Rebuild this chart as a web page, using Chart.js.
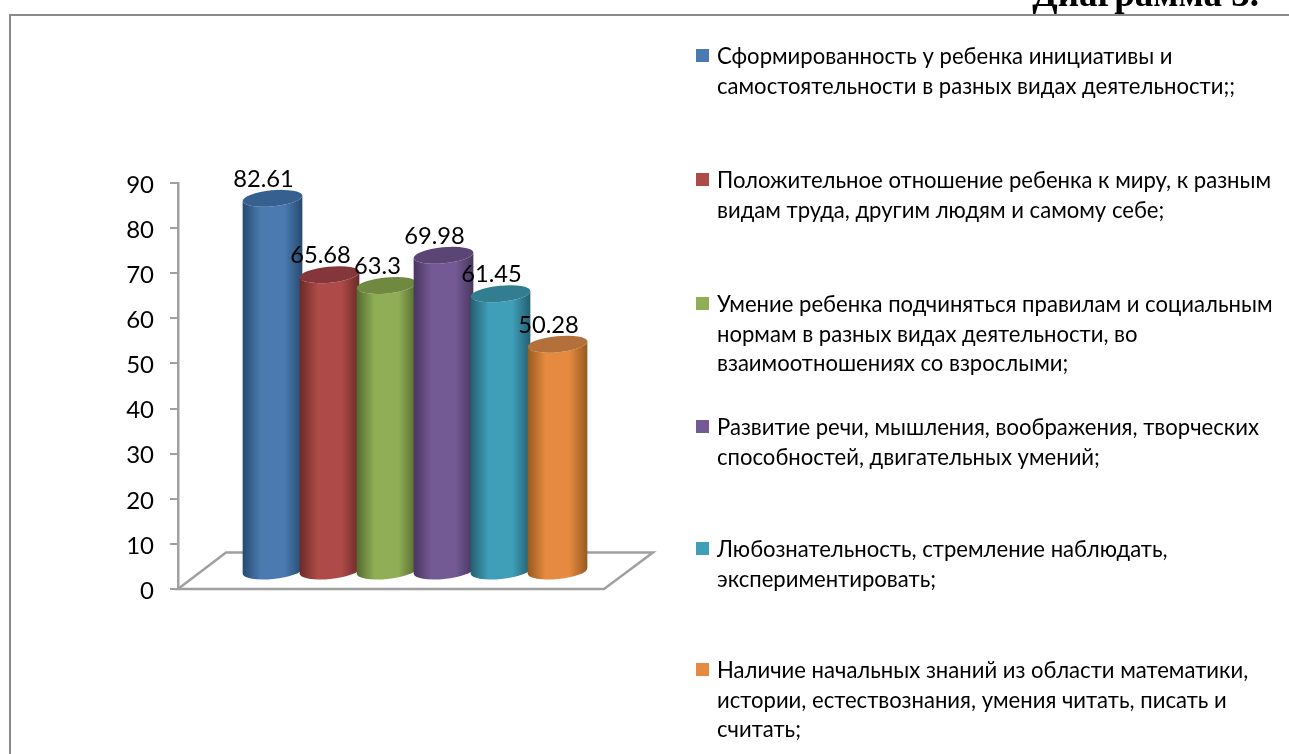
<!DOCTYPE html>
<html lang="ru">
<head>
<meta charset="utf-8">
<script src="https://cdn.jsdelivr.net/npm/chart.js@4"></script>
<style>
html,body{margin:0;padding:0;background:#fff;width:1289px;height:754px;overflow:hidden}
#wrap{position:relative;width:1289px;height:754px;overflow:hidden}
canvas{position:absolute;left:0;top:0}
#frameTop{position:absolute;left:9px;top:14px;width:1280px;height:2px;background:#8a8a8a}
#frameLeft{position:absolute;left:9px;top:14px;width:2px;height:740px;background:#8a8a8a}
#title{position:absolute;right:30px;top:-24.5px;font:bold 37px "Liberation Serif",serif;color:#000;white-space:nowrap;line-height:36px}
.swatch{position:absolute;left:696px;width:13px;height:13px}
.line{position:absolute;left:717px;font:22.1px Lato,sans-serif;color:#000;white-space:nowrap;line-height:28px;height:28px}
</style>
</head>
<body>
<div id="wrap">
<canvas id="c" width="1289" height="754"></canvas>
<div id="title">Диаграмма 3.</div>
<div id="frameTop"></div><div id="frameLeft"></div>
</div>
<script>
const categories = [''];
const seriesValues = [82.61, 65.68, 63.3, 69.98, 61.45, 50.28];
const seriesNames = [
  ['Сформированность у ребенка инициативы и', 'самостоятельности в разных видах деятельности;;'],
  ['Положительное отношение ребенка к миру, к разным', 'видам труда, другим людям и самому себе;'],
  ['Умение ребенка подчиняться правилам и социальным', 'нормам в разных видах деятельности, во', 'взаимоотношениях со взрослыми;'],
  ['Развитие речи, мышления, воображения, творческих', 'способностей, двигательных умений;'],
  ['Любознательность, стремление наблюдать,', 'экспериментировать;'],
  ['Наличие начальных знаний из области математики,', 'истории, естествознания, умения читать, писать и', 'считать;']
];
const seriesColors = ['#4a7ab0', '#ae4a47', '#8fae55', '#735a94', '#3f9eb8', '#e58a3f'];
const capColors = ['#35608f', '#84363a', '#6f8a40', '#5a4575', '#327e90', '#b3703a'];
const edgeColors = ['#264a70', '#6a2a28', '#54692f', '#493660', '#235f70', '#96591f'];
const yTicks = [0, 10, 20, 30, 40, 50, 60, 70, 80, 90];
const legendRowY = [55, 179, 303, 426, 548, 669];

const DEPTH_UNITS = 18 / 4.51; // the 3-D bars stand on a floor raised above the axis zero
const FONT = 'Lato, sans-serif';

const cylinders = {
  id: 'cylinders',
  beforeDatasetDraw() { return false; },
  beforeDatasetsDraw(chart) {
    const {ctx, chartArea: a} = chart;
    ctx.save();
    ctx.strokeStyle = '#a0a0a0';
    ctx.lineWidth = 2.5;
    ctx.beginPath();
    ctx.moveTo(a.left, a.bottom);
    ctx.lineTo(a.left + 48, a.bottom - 36.5);
    ctx.lineTo(a.left + 475, a.bottom - 36.5);
    ctx.lineTo(a.left + 426, a.bottom);
    ctx.closePath();
    ctx.stroke();
    ctx.restore();
  },
  afterDatasetsDraw(chart) {
    const ctx = chart.ctx;
    const rot = -5.5 * Math.PI / 180, ry = 8;
    const bars = chart.data.datasets.map((d, i) => chart.getDatasetMeta(i).data[0]);
    bars.forEach((bar, i) => {
      const rx = bar.width / 2 + 1.5;
      const cx = bar.x, ty = bar.y, by = bar.base;
      const grad = ctx.createLinearGradient(cx - rx, 0, cx + rx, 0);
      grad.addColorStop(0, edgeColors[i]);
      grad.addColorStop(0.3, seriesColors[i]);
      grad.addColorStop(0.7, seriesColors[i]);
      grad.addColorStop(1, edgeColors[i]);
      ctx.save();
      ctx.fillStyle = grad;
      ctx.beginPath();
      ctx.ellipse(cx, by, rx, ry, rot, 0, Math.PI);
      ctx.ellipse(cx, ty, rx, ry, rot, Math.PI, 0, true);
      ctx.closePath();
      ctx.fill();
      ctx.fillStyle = capColors[i];
      ctx.beginPath();
      ctx.ellipse(cx, ty, rx, ry, rot, 0, Math.PI * 2);
      ctx.fill();
      ctx.restore();
    });
    ctx.save();
    ctx.fillStyle = '#000';
    ctx.font = '23.7px ' + FONT;
    ctx.textAlign = 'center';
    ctx.textBaseline = 'middle';
    bars.forEach((bar, i) => {
      ctx.fillText(String(seriesValues[i]), bar.x - 9, bar.y - 19);
    });
    ctx.restore();
  }
};

new Chart(document.getElementById('c'), {
  type: 'bar',
  data: {
    labels: categories,
    datasets: seriesValues.map((v, i) => ({
      label: seriesNames[i].join(' '),
      data: [v],
      backgroundColor: seriesColors[i],
      yAxisID: 'yBars',
      categoryPercentage: 0.7215,
      barPercentage: 1
    }))
  },
  options: {
    responsive: false,
    animation: false,
    events: [],
    layout: {padding: {left: 0, top: 183, right: 637, bottom: 165}},
    plugins: {legend: {display: false}, title: {display: false}, tooltip: {enabled: false}},
    scales: {
      x: {display: false},
      y: {
        position: 'left',
        min: 0, max: 90,
        afterFit(s) { s.width = 178; },
        afterBuildTicks(s) { s.ticks = yTicks.map(value => ({value})); },
        border: {color: '#a0a0a0', width: 2.5},
        grid: {drawOnChartArea: false, color: '#a0a0a0', tickLength: 8, lineWidth: 2},
        ticks: {color: '#000', padding: 16, labelOffset: 2, font: {family: 'Lato', size: 24}}
      },
      yBars: {
        display: false,
        min: -DEPTH_UNITS, max: 90 - DEPTH_UNITS
      }
    }
  },
  plugins: [cylinders]
});

const wrap = document.getElementById('wrap');
seriesNames.forEach((lines, i) => {
  const sw = document.createElement('div');
  sw.className = 'swatch';
  sw.style.top = (legendRowY[i] - 6) + 'px';
  sw.style.background = seriesColors[i];
  wrap.appendChild(sw);
  lines.forEach((t, k) => {
    const d = document.createElement('div');
    d.className = 'line';
    d.textContent = t;
    d.style.top = (legendRowY[i] - 13 + k * 29.5) + 'px';
    wrap.appendChild(d);
  });
});
</script>
</body>
</html>
